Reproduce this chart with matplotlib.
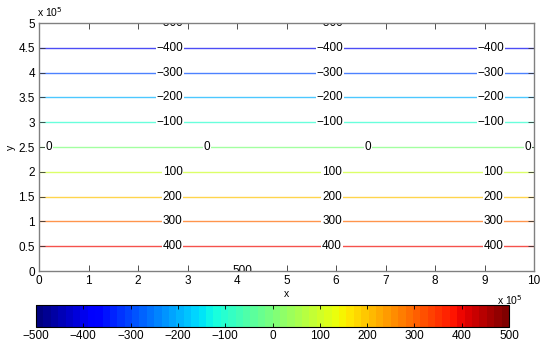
import numpy as np
import matplotlib
matplotlib.use("Agg")
import matplotlib.pyplot as plt
from matplotlib.colors import Normalize
from matplotlib.cm import ScalarMappable

plt.rcParams["font.family"] = ["Liberation Sans", "DejaVu Sans"]

# contour levels and the y (x 1e5) where each level sits
levels = [-500, -400, -300, -200, -100, 0, 100, 200, 300, 400, 500]
level_y = [5.0, 4.5, 4.0, 3.5, 3.0, 2.5, 2.0, 1.5, 1.0, 0.5, 0.0]
# label x positions (x 1e5) per level
label_x = {
    -500: [2.65, 5.88],
    -400: [2.65, 5.88, 9.13],
    -300: [2.65, 5.88, 9.13],
    -200: [2.65, 5.88, 9.13],
    -100: [2.65, 5.88, 9.13],
    0: [0.2, 3.4, 6.65, 9.87],
    100: [2.7, 5.92, 9.18],
    200: [2.7, 5.92, 9.18],
    300: [2.7, 5.92, 9.18],
    400: [2.7, 5.92, 9.18],
    500: [4.1],
}
xticks = list(range(0, 11))
yticks = [0, 0.5, 1, 1.5, 2, 2.5, 3, 3.5, 4, 4.5, 5]
cbar_ticks = [-500, -400, -300, -200, -100, 0, 100, 200, 300, 400, 500]

W, H = 549, 342
fig = plt.figure(figsize=(W / 100, H / 100), dpi=100)
ax = fig.add_axes([39 / W, (H - 271) / H, 495 / W, 248 / H])
cmap = plt.get_cmap("jet", 64)
norm = Normalize(-500, 500)


def lab(v):
    return f"{v}".replace("-", "\u2212")


for lv, y in zip(levels, level_y):
    if lv not in (-500, 500):
        ax.hlines(y, 0, 10, colors=[plt.get_cmap("jet")(norm(lv))], lw=1.0, alpha=0.7, zorder=1)
    for xl in label_x[lv]:
        ax.text(xl, y, lab(lv), ha="center", va="center",
                fontsize=8.5, color="black", clip_on=True, zorder=2,
                bbox=dict(facecolor="white", edgecolor="none", pad=0.5))

ax.set_xlim(0, 10)
ax.set_ylim(0, 5)
ax.set_xticks(xticks)
ax.set_xticklabels([str(t) for t in xticks])
ax.set_yticks(yticks)
ax.set_yticklabels([("%g" % t) for t in yticks])
ax.tick_params(direction="in", top=True, right=True, length=4, width=0.6,
               labelsize=8.5, color="#333333", pad=3)
for s in ax.spines.values():
    s.set_color("#808080")
    s.set_linewidth(1.0)
    s.set_zorder(3)
ax.set_xlabel("x", fontsize=7.5, labelpad=1)
ax.set_ylabel("y", fontsize=7.5, labelpad=2)
fig.text(37 / W, 1 - 12 / H, r"x 10$^5$", fontsize=7.5, ha="left", va="center")
fig.text(497 / W, 1 - 300 / H, r"x 10$^5$", fontsize=7.5, ha="left", va="center")

cax = fig.add_axes([36 / W, (H - 327) / H, 473 / W, 22 / H])
cb = fig.colorbar(ScalarMappable(norm=norm, cmap=cmap), cax=cax, orientation="horizontal")
cb.set_ticks(cbar_ticks)
cb.set_ticklabels([lab(t) for t in cbar_ticks])
cax.tick_params(direction="in", top=True, bottom=True, length=3, width=0.6,
                labelsize=8.5, pad=2)
cb.outline.set_linewidth(0.8)

fig.savefig("out.png", dpi=100)
